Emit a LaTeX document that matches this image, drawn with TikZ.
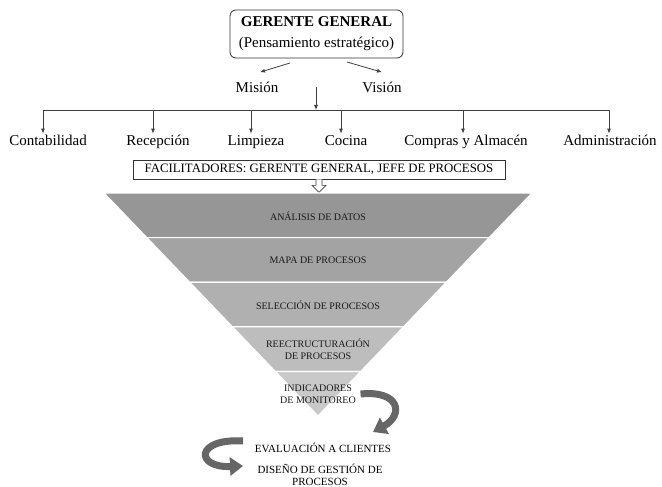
\documentclass[tikz,border=0pt]{standalone}
\usepackage{fontspec}
\setmainfont{Liberation Serif}
\usepackage{tikz}
\usetikzlibrary{calc}
\usetikzlibrary{arrows.meta,shadows}

\begin{document}
\begin{tikzpicture}[x=1pt, y=-1pt, thick,
	arr/.style = {draw=black!75, line width=0.8pt, -{Latex[length=5pt,width=4pt]}},
	lbl/.style = {font=\fontsize{15}{18}\selectfont, anchor=base, inner sep=2pt},
	area/.style = {font=\fontsize{15}{18}\selectfont, anchor=base, text height=11pt, text depth=3pt, inner sep=1pt},
	layer/.style = {draw=white, line width=1.2pt},
	ltext/.style = {font=\fontsize{10}{12}\selectfont, text=black!90, align=center},
	fat/.style = {line width=7pt, draw=black!60, -{Triangle[width=18pt,length=13pt]}}]
		\useasboundingbox (0,0) rectangle (662,487);
		\begin{scope}
			\node[draw=black!80, line width=0.8pt, rounded corners=6pt, minimum width=173pt, minimum height=48pt, align=center, font=\fontsize{15}{21}\selectfont] (gerente) at (316.5,34) {\textbf{GERENTE GENERAL}\\(Pensamiento estratégico)};
			\node[lbl] (mision) at (257,93) {Misión};
			\node[lbl] (vision) at (382,93) {Visión};
			\path[shape=coordinate]
			(290,63) coordinate(gm)
			(347,62) coordinate(gv)
			(316,87) coordinate(top);
			
			\draw[arr] (gm) -- ([shift={(3,-8)}]mision.north);
			\draw[arr] (gv) -- ([shift={(0,-8)}]vision.north);
		\end{scope}
		
		\begin{scope}
			\path[shape=coordinate]
			(43,110) coordinate(b1)
			(153,110) coordinate(b2)
			(251,110) coordinate(b3)
			(341,110) coordinate(b4)
			(463,110) coordinate(b5)
			(609,110) coordinate(b6);
			
			\node[area] (conta) at (48,146) {Contabilidad};
			\node[area] (recep) at (158,146) {Recepción};
			\node[area] (limp) at (256,146) {Limpieza};
			\node[area] (cocina) at (346,146) {Cocina};
			\node[area] (compras) at (466,146) {Compras y Almacén};
			\node[area] (admin) at (610,146) {Administración};
			
			\draw[arr] (top) -- (top |- b1);
			\draw[draw=black!75, line width=0.8pt] (b1) -- (b6);
			\draw[arr] (b1) -- (b1 |- conta.north);
			\draw[arr] (b2) -- (b2 |- recep.north);
			\draw[arr] (b3) -- (b3 |- limp.north);
			\draw[arr] (b4) -- (b4 |- cocina.north);
			\draw[arr] (b5) -- (b5 |- compras.north);
			\draw[arr] (b6) -- (b6 |- admin.north);
		\end{scope}
		
		\begin{scope}
			\node[draw=black!80, line width=0.8pt, fill=white, minimum width=372pt, minimum height=19pt, inner sep=0pt, font=\fontsize{12.8}{14}\selectfont, drop shadow={shadow xshift=1.2pt, shadow yshift=-1.2pt, fill=black!55, opacity=1}] (facil) at (319,169.5) {FACILITADORES: GERENTE GENERAL, JEFE DE PROCESOS};
			\draw[line width=0.6pt, draw=black!75, fill=white] ([xshift=-3pt]facil.south) -- ++(0,6) -- ++(-4,0) -- ++(7,7) -- ++(7,-7) -- ++(-4,0) -- ++(0,-6);
		\end{scope}
		
		\begin{scope}
			\path[shape=coordinate]
			(104,193) coordinate(L0)
			(532,193) coordinate(R0)
			(146.8,237.6) coordinate(L1)
			(489.2,237.6) coordinate(R1)
			(189.6,282.2) coordinate(L2)
			(446.4,282.2) coordinate(R2)
			(232.4,326.8) coordinate(L3)
			(403.6,326.8) coordinate(R3)
			(275.2,371.4) coordinate(L4)
			(360.8,371.4) coordinate(R4)
			(318,416) coordinate(A);
			
			\filldraw[layer, fill=black!41] (L0) -- (R0) -- (R1) -- (L1) -- cycle;
			\filldraw[layer, fill=black!36] (L1) -- (R1) -- (R2) -- (L2) -- cycle;
			\filldraw[layer, fill=black!31] (L2) -- (R2) -- (R3) -- (L3) -- cycle;
			\filldraw[layer, fill=black!26] (L3) -- (R3) -- (R4) -- (L4) -- cycle;
			\filldraw[layer, fill=black!21] (L4) -- (R4) -- (A) -- cycle;
			
			\node[ltext] (analisis) at (318,216) {ANÁLISIS DE DATOS};
			\node[ltext] (mapa) at (318,260.5) {MAPA DE PROCESOS};
			\node[ltext] (seleccion) at (318,305) {SELECCIÓN DE PROCESOS};
			\node[ltext] (reestr) at (318,349) {REECTRUCTURACIÓN\\DE PROCESOS};
			\node[ltext] (indic) at (318,394) {INDICADORES\\DE MONITOREO};
		\end{scope}
		
		\begin{scope}
			\node[font=\fontsize{11}{13}\selectfont, anchor=base] (eval) at (323,452) {EVALUACIÓN A CLIENTES};
			\node[font=\fontsize{11}{12}\selectfont, align=center, inner sep=1pt] (diseno) at (320,474.5) {DISEÑO DE GESTIÓN DE\\PROCESOS};
			\path[shape=coordinate]
			(373,432) coordinate(t1)
			(243,441) coordinate(s2)
			(243,466) coordinate(t2);
			
			\draw[fat] ([xshift=1pt]indic.east) .. controls (400,390) and (404,415) .. (t1);
			\draw[fat] (s2) .. controls (195,438) and (195,468) .. (t2);
		\end{scope}
	\end{tikzpicture}
\end{document}
